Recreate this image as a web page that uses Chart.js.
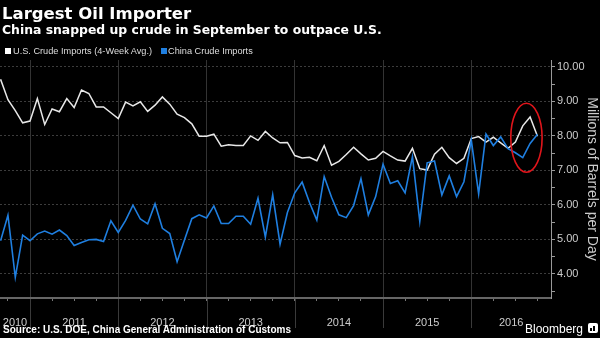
<!DOCTYPE html>
<html><head><meta charset="utf-8">
<script src="https://cdn.jsdelivr.net/npm/chart.js@4"></script>
<style>
html,body{margin:0;padding:0;background:#000;}
#wrap{position:relative;width:600px;height:338px;background:#000;overflow:hidden;}
#c{position:absolute;left:0;top:0;}
.t{position:absolute;white-space:nowrap;color:#fff;}
#title{left:2px;top:5px;font:bold 16.5px/17px 'DejaVu Sans',sans-serif;}
#sub{left:2px;top:24px;font:bold 12.4px/12.5px 'DejaVu Sans',sans-serif;}
.lg{top:46px;font:9.2px/10px 'Liberation Sans',sans-serif;color:#ddd;}
.sw{position:absolute;top:48px;width:6px;height:6px;}
#src{left:3px;top:324px;font:bold 10px/11px 'Liberation Sans',sans-serif;}
#bb{left:525px;top:323px;font:12px/12px 'Liberation Sans',sans-serif;}
#icon{position:absolute;left:588px;top:323px;width:10px;height:10px;background:#fff;border-radius:2px;}
#icon i{position:absolute;bottom:2px;width:2px;background:#000;}
</style></head>
<body><div id="wrap">
<canvas id="c" width="600" height="338"></canvas>
<div class="t" id="title">Largest Oil Importer</div>
<div class="t" id="sub">China snapped up crude in September to outpace U.S.</div>
<div class="sw" style="left:5px;background:#fff"></div>
<div class="t lg" style="left:13px">U.S. Crude Imports (4-Week Avg.)</div>
<div class="sw" style="left:161px;background:#1f7fe0"></div>
<div class="t lg" style="left:168px">China Crude Imports</div>
<div class="t" id="src">Source: U.S. DOE, China General Administration of Customs</div>
<div class="t" id="bb">Bloomberg</div>
<div id="icon"><i style="left:2px;height:3px"></i><i style="left:5px;height:5px"></i></div>
</div>
<script>
const months = [
 '2010-09','2010-10','2010-11','2010-12',
 '2011-01','2011-02','2011-03','2011-04','2011-05','2011-06','2011-07','2011-08','2011-09','2011-10','2011-11','2011-12',
 '2012-01','2012-02','2012-03','2012-04','2012-05','2012-06','2012-07','2012-08','2012-09','2012-10','2012-11','2012-12',
 '2013-01','2013-02','2013-03','2013-04','2013-05','2013-06','2013-07','2013-08','2013-09','2013-10','2013-11','2013-12',
 '2014-01','2014-02','2014-03','2014-04','2014-05','2014-06','2014-07','2014-08','2014-09','2014-10','2014-11','2014-12',
 '2015-01','2015-02','2015-03','2015-04','2015-05','2015-06','2015-07','2015-08','2015-09','2015-10','2015-11','2015-12',
 '2016-01','2016-02','2016-03','2016-04','2016-05','2016-06','2016-07','2016-08','2016-09','2016-10'];
const usImports = [
 9.64,9.05,8.73,8.38,
 8.43,9.08,8.33,8.78,8.70,9.08,8.82,9.33,9.23,8.84,8.84,8.67,
 8.50,8.98,8.87,8.99,8.71,8.89,9.13,8.92,8.63,8.53,8.35,7.99,
 7.99,8.05,7.70,7.74,7.72,7.72,8.00,7.87,8.13,7.94,7.80,7.81,
 7.43,7.36,7.38,7.28,7.72,7.15,7.26,7.46,7.67,7.48,7.30,7.35,
 7.55,7.42,7.30,7.27,7.64,7.05,7.01,7.47,7.67,7.37,7.20,7.35,
 7.92,7.98,7.82,7.96,7.80,7.64,7.82,8.29,8.55,7.99];
const chinaImports = [
 4.96,5.70,3.90,5.12,
 4.96,5.16,5.24,5.15,5.27,5.11,4.82,4.91,4.99,5.00,4.94,5.54,
 5.20,5.55,5.99,5.59,5.45,6.03,5.32,5.17,4.35,4.98,5.60,5.71,
 5.62,5.97,5.46,5.46,5.67,5.67,5.44,6.19,5.07,6.29,4.86,5.78,
 6.35,6.66,6.07,5.56,6.82,6.22,5.71,5.63,5.98,6.76,5.71,6.24,
 7.18,6.62,6.70,6.35,7.40,5.52,7.22,7.27,6.29,6.84,6.24,6.67,
 7.88,6.32,8.05,7.72,7.97,7.63,7.51,7.37,7.78,8.05];
const yearLabels = ['2010','2011','2012','2013','2014','2015','2016'];
const yTickValues = [4,5,6,7,8,9,10];

const toX = m => { const p = m.split('-').map(Number); return (p[0]-2011)*12 + (p[1]-1); };
const X_MIN = -4.08, X_MAX = 70.84;
const noPad = s => { s.paddingLeft = 0; s.paddingRight = 0; s.paddingTop = 0; s.paddingBottom = 0; };

const extraPlugin = {
  id: 'extra',
  afterDatasetsDraw(chart){
    const {ctx, scales:{x, y}} = chart;
    const cx = x.getPixelForValue(67.5), cy = y.getPixelForValue(7.945);
    const rx = Math.abs(x.getPixelForValue(67.5+2.13) - cx);
    const ry = Math.abs(y.getPixelForValue(7.945-1.0) - cy);
    ctx.save();
    ctx.strokeStyle = '#e0151b'; ctx.lineWidth = 1.6;
    ctx.beginPath(); ctx.ellipse(cx, cy, rx, ry, 0, 0, Math.PI*2); ctx.stroke();
    ctx.restore();
  },
  afterDraw(chart){
    const {ctx, chartArea, scales:{x}} = chart;
    ctx.save();
    ctx.strokeStyle = '#3a3a3a'; ctx.lineWidth = 1;
    for (let i = 1; i < yearLabels.length; i++) {
      const px = Math.round(x.getPixelForValue((Number(yearLabels[i])-2011)*12)) + 0.5;
      ctx.beginPath(); ctx.moveTo(px, chartArea.bottom + 1); ctx.lineTo(px, chartArea.bottom + 30); ctx.stroke();
    }
    ctx.restore();
  }
};

new Chart(document.getElementById('c'), {
  type: 'line',
  data: {
    datasets: [
      {label: 'China Crude Imports', data: months.map((m,i)=>({x: toX(m), y: chinaImports[i]})),
       borderColor: '#1f7fe0', borderWidth: 1.6, pointRadius: 0, tension: 0},
      {label: 'U.S. Crude Imports (4-Week Avg.)', data: months.map((m,i)=>({x: toX(m), y: usImports[i]})),
       borderColor: '#e8e8e8', borderWidth: 1.5, pointRadius: 0, tension: 0}
    ]
  },
  options: {
    responsive: false, animation: false, devicePixelRatio: 1,
    layout: {padding: {top: 60, left: 0, right: 0, bottom: 0}},
    plugins: {legend: {display: false}, tooltip: {enabled: false}},
    scales: {
      x: {
        type: 'linear', position: 'bottom', min: X_MIN, max: X_MAX, weight: 0,
        afterBuildTicks: s => { const t = []; for (let v = Math.ceil(X_MIN/3)*3; v <= X_MAX; v += 3) t.push({value: v}); s.ticks = t; },
        afterFit: s => { s.height = 4; noPad(s); },
        ticks: {display: false},
        grid: {color: c => (c.tick && c.tick.value % 12 === 0) ? '#333' : 'rgba(0,0,0,0)',
               tickColor: '#777', tickLength: 3, lineWidth: 1},
        border: {color: '#666', width: 2}
      },
      x2: {
        type: 'linear', position: 'bottom', min: X_MIN, max: X_MAX, weight: 1,
        afterBuildTicks: s => {
          s.ticks = yearLabels.map(yl => {
            const a = Math.max((Number(yl)-2011)*12, X_MIN), b = Math.min((Number(yl)-2010)*12, X_MAX);
            return {value: (a+b)/2};
          });
        },
        afterFit: s => { s.height = 36; noPad(s); },
        grid: {display: false}, border: {display: false},
        ticks: {color: '#ccc', font: {family: 'Liberation Sans', size: 11}, padding: 6, maxRotation: 0, autoSkip: false,
          callback: (v, i) => yearLabels[i]}
      },
      y: {
        type: 'linear', position: 'right', min: 3.3, max: 10.2,
        afterBuildTicks: s => { const t = []; for (let v = 3.5; v <= 10; v += 0.5) t.push({value: v}); s.ticks = t; },
        afterFit: s => { s.width = 49; noPad(s); },
        ticks: {color: '#ccc', font: {family: 'Liberation Sans', size: 11}, padding: 2, autoSkip: false,
          callback: v => yTickValues.includes(v) ? v.toFixed(2) : ''},
        grid: {color: c => (c.tick && yTickValues.includes(c.tick.value)) ? '#3c3c3c' : 'rgba(0,0,0,0)',
               tickColor: '#999', tickLength: 4},
        border: {color: '#999', width: 1, dash: [2,2]},
        title: {display: true, text: 'Millions of Barrels per Day', color: '#ccc',
          font: {family: 'Liberation Sans', size: 14}, padding: 0}
      }
    }
  },
  plugins: [extraPlugin]
});
</script>
</body></html>
